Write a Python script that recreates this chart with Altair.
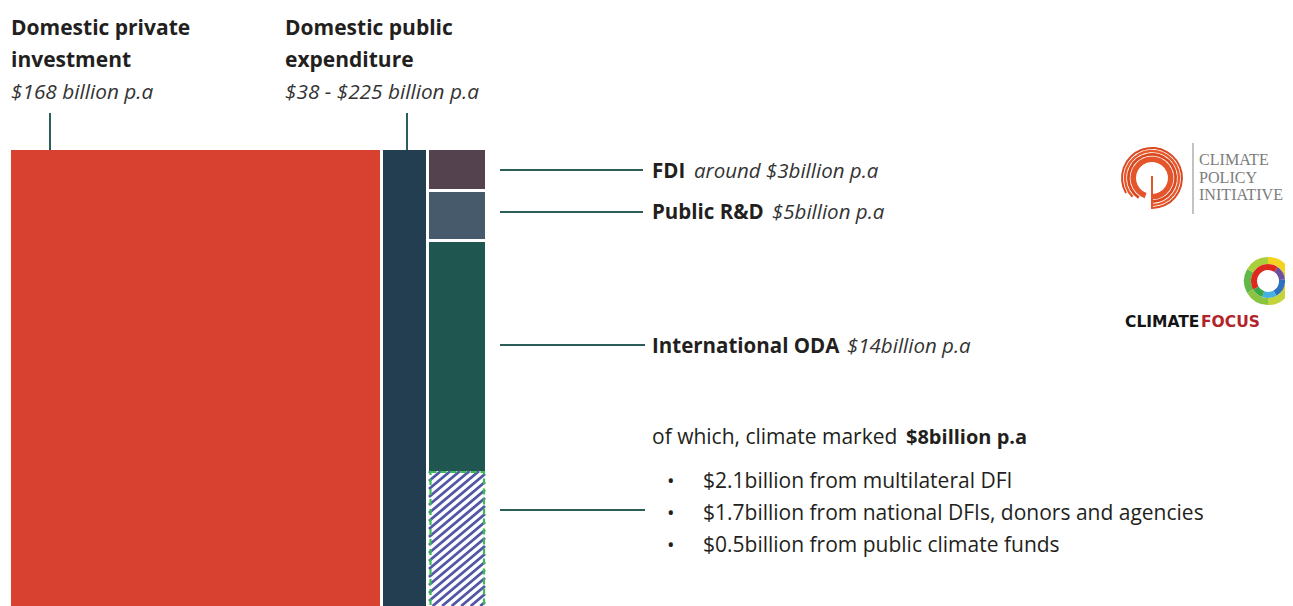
import math
import altair as alt
import pandas as pd

# ------------------------------------------------------------------ data
flow_names = ["Domestic private investment", "Domestic public expenditure",
              "FDI", "Public R&D", "International ODA", "Climate-marked ODA"]
flow_values = ["$168 billion p.a", "$38 - $225 billion p.a", "around $3billion p.a",
               "$5billion p.a", "$14billion p.a", "$8billion p.a"]
climate_sources = ["$2.1billion from multilateral DFI",
                   "$1.7billion from national DFIs, donors and agencies",
                   "$0.5billion from public climate funds"]

# ------------------------------------------------------------------ layout (reference px)
block_x0 = [11, 383, 429, 429, 429, 429]
block_x1 = [380, 426, 485, 485, 485, 485]
block_y0 = [150, 150, 150, 192, 242, 471]
block_y1 = [606, 606, 189, 239, 471, 606]
block_colors = ["#d8412f", "#233d51", "#54434f", "#475a6b", "#1f5650", "#ffffff"]

FONT = "Open Sans"
INK = "#231f20"
TEAL = "#2b5e58"

xs = alt.Scale(domain=[8, 1285], nice=False, zero=False)
ys = alt.Scale(domain=[606, 8], nice=False, zero=False)


def X(f="x"):
    return alt.X(f, type="quantitative", scale=xs, axis=None)


def Y(f="y"):
    return alt.Y(f, type="quantitative", scale=ys, axis=None)


# ------------------------------------------------------------------ blocks
blocks = pd.DataFrame({"name": flow_names, "x": block_x0, "x2": block_x1,
                       "y": block_y0, "y2": block_y1, "c": block_colors})
rects = alt.Chart(blocks).mark_rect().encode(
    x=X(), x2="x2", y=Y(), y2="y2",
    color=alt.Color("c:N", scale=None))

# hatch inside the climate-marked block
hx0, hx1, hy0, hy1 = 429, 485, 471, 606
k = math.tan(math.radians(40))
segs = []
b = hy0 + 2
while b < hy1 + k * (hx1 - hx0):
    sx, sy = hx0, b
    if sy > hy1:
        sx = hx0 + (sy - hy1) / k
        sy = hy1
    ex, ey = hx1, b - k * (hx1 - hx0)
    if ey < hy0:
        ex = hx0 + (b - hy0) / k
        ey = hy0
    if sx < hx1:
        segs.append({"x": sx, "y": sy, "x2": ex, "y2": ey})
    b += 8
hatch = alt.Chart(pd.DataFrame(segs)).mark_rule(
    color="#5156a6", strokeWidth=2.8).encode(x=X(), y=Y(), x2="x2", y2="y2")

border = alt.Chart(pd.DataFrame({"x": [430.5], "x2": [484], "y": [472], "y2": [610]})).mark_rect(
    fillOpacity=0, stroke="#3cbc55", strokeWidth=2.2, strokeDash=[6, 4]).encode(
    x=X(), x2="x2", y=Y(), y2="y2")

# ------------------------------------------------------------------ pointer lines
pointers = pd.DataFrame({
    "x": [50, 407, 500, 500, 500, 500],
    "x2": [50, 407, 643, 643, 645, 645],
    "y": [113, 113, 170, 212, 345, 510],
    "y2": [150, 150, 170, 212, 345, 510]})
rules = alt.Chart(pointers).mark_rule(color=TEAL, strokeWidth=2).encode(
    x=X(), y=Y(), x2="x2", y2="y2")


# ------------------------------------------------------------------ texts
def txt(rows, size, weight="normal", style="normal", color=INK, font=FONT, align="left"):
    df = pd.DataFrame(rows, columns=["x", "y", "t"])
    return alt.Chart(df).mark_text(
        align=align, baseline="alphabetic", font=font, fontSize=size,
        fontWeight=weight, fontStyle=style, color=color).encode(
        x=X(), y=Y(), text="t:N")


head_bold = txt([(11, 35, "Domestic private"), (11, 67, "investment"),
                 (285, 35, "Domestic public"), (285, 67, "expenditure")], 21, weight="bold")
head_val = txt([(11, 99, flow_values[0]), (285, 99, flow_values[1])], 20.8, style="italic", color="#333333")

lab_bold = txt([(652, 178, "FDI"), (652, 219, "Public R&D"), (652, 353, "International ODA")],
               20.5, weight="bold")
lab_val = txt([(694, 178, flow_values[2]), (772, 219, flow_values[3]), (847, 353, flow_values[4])],
              20.5, style="italic", color="#333333")

which = txt([(652, 444, "of which, climate marked")], 21)
which_b = txt([(906, 444, flow_values[5])], 20, weight="bold")
bullets = txt([(667, 488, "•"), (667, 520, "•"), (667, 552, "•")], 20)
bullet_t = txt([(703, 488, climate_sources[0]), (703, 520, climate_sources[1]),
                (703, 552, climate_sources[2])], 21)

# ------------------------------------------------------------------ logos
cpi_rings = []
for r0, r1, t0, col in [(16, 21.5, 200, "#e4552c"), (22.3, 25, 214, "#d9491f"),
                        (25.8, 28.2, 226, "#e85a2e"), (29, 31, 240, "#d94a22")]:
    cpi_rings.append(alt.Chart(pd.DataFrame({"x": [1152], "y": [178]})).mark_arc(
        radius=r1, radius2=r0, theta=math.radians(t0), theta2=math.radians(540), color=col
    ).encode(x=X(), y=Y()))
cpi_stem = alt.Chart(pd.DataFrame({"x": [1152], "y": [176], "y2": [209]})).mark_rule(
    color="#e4552c", strokeWidth=2).encode(x=X(), y=Y(), y2="y2")
cpi_bar = alt.Chart(pd.DataFrame({"x": [1193], "y": [143], "y2": [214]})).mark_rule(
    color="#9a9a9a", strokeWidth=1.2).encode(x=X(), y=Y(), y2="y2")
cpi_text = txt([(1199, 165, "CLIMATE"), (1199, 183, "POLICY"), (1199, 200, "INITIATIVE")],
               16.1, color="#7d7d7d", font="Liberation Serif")

cf_parts = []
outer = [(0, 60, "#f4d320"), (60, 120, "#f1c418"), (120, 180, "#c3d33a"),
         (180, 240, "#8ac440"), (240, 300, "#5fb848"), (300, 360, "#a8cf3c")]
inner = [(0, 35, "#e2261c"), (35, 85, "#6b4fa0"), (85, 150, "#2f6fc0"),
         (150, 200, "#45b0e0"), (200, 240, "#3aa84a"), (240, 360, "#dc2a1e")]
for r0, r1, segs_c in [(17, 24, outer), (11, 17, inner)]:
    for t0, t1, col in segs_c:
        cf_parts.append(alt.Chart(pd.DataFrame({"x": [1268], "y": [281]})).mark_arc(
            radius=r1, radius2=r0, theta=math.radians(t0), theta2=math.radians(t1), color=col
        ).encode(x=X(), y=Y()))
cf_a = txt([(1125, 327, "CLIMATE")], 15.5, weight="bold", color="#141414", font="DejaVu Sans")
cf_b = txt([(1201, 327, "FOCUS")], 15.5, weight="bold", color="#b3232a", font="DejaVu Sans")

chart = alt.layer(
    rects, hatch, border, rules, head_bold, head_val, lab_bold, lab_val,
    which, which_b, bullets, bullet_t,
    *cpi_rings, cpi_stem, cpi_bar, cpi_text, *cf_parts, cf_a, cf_b
).properties(
    width=1277, height=598, padding=0,
    autosize=alt.AutoSizeParams(type="none"), background="white"
).configure_view(stroke=None)

chart.save("out.html", embed_options={"renderer": "svg", "actions": False})
